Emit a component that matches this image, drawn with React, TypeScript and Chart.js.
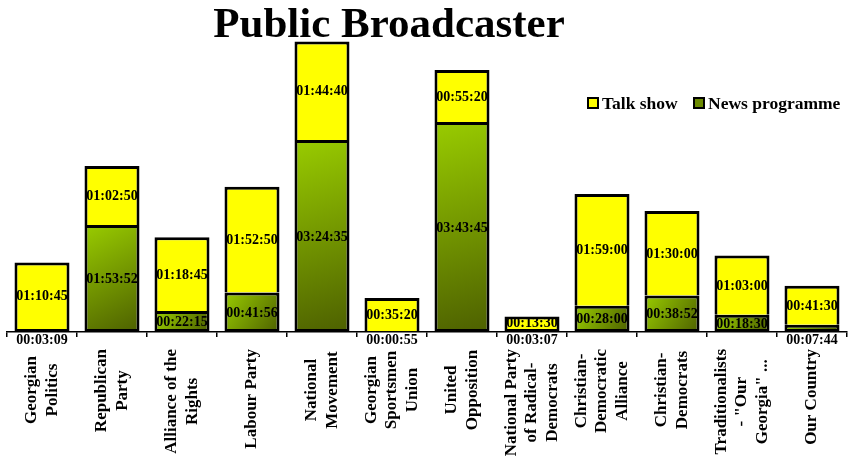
import React, { useEffect, useRef } from "react";
import { Chart, registerables } from "chart.js";

Chart.register(...registerables);

const categories: string[][] = [
  ["Georgian", "Politics"],
  ["Republican", "Party"],
  ["Alliance of the", "Rights"],
  ["Labour Party"],
  ["National", "Movement"],
  ["Georgian", "Sportsmen", "Union"],
  ["United", "Opposition"],
  ["National Party", "of Radical-", "Democrats"],
  ["Christian-", "Democratic", "Alliance"],
  ["Christian-", "Democrats"],
  ["Traditionalists", '- "Our', 'Georgia" ...'],
  ["Our Country"],
];

const newsTimes: string[] = [
  "00:03:09", "01:53:52", "00:22:15", "00:41:56", "03:24:35", "00:00:55",
  "03:43:45", "00:03:07", "00:28:00", "00:38:52", "00:18:30", "00:07:44",
];

const talkTimes: string[] = [
  "01:10:45", "01:02:50", "01:18:45", "01:52:50", "01:44:40", "00:35:20",
  "00:55:20", "00:13:30", "01:59:00", "01:30:00", "01:03:00", "00:41:30",
];

const seriesNames = ["News programme", "Talk show"];
const titleText = "Public Broadcaster";

const toSeconds = (t: string) => {
  const [h, m, s] = t.split(":").map(Number);
  return h * 3600 + m * 60 + s;
};

const newsSec = newsTimes.map(toSeconds);
const talkSec = talkTimes.map(toSeconds);

const SERIF = "'Times New Roman', 'Liberation Serif', serif";
const YELLOW = "#ffff00";
const BAR_PCT = 0.786;

function greenGradient(chart: any, i: number, from: number, to: number) {
  const xs = chart.scales.x;
  const ys = chart.scales.y;
  if (!xs || !ys || !chart.chartArea) return "#77a000";
  const cx = xs.getPixelForValue(i);
  const half = (xs.width / categories.length) * BAR_PCT / 2;
  const top = ys.getPixelForValue(to);
  const bottom = ys.getPixelForValue(from);
  const g = chart.ctx.createLinearGradient(cx - half, top, cx + half, bottom);
  g.addColorStop(0, "#99cc00");
  g.addColorStop(1, "#4d6000");
  return g;
}

const labelPlugin = {
  id: "valueLabels",
  afterDatasetsDraw(chart: any) {
    const ctx = chart.ctx;
    ctx.save();
    ctx.font = `bold 14px ${SERIF}`;
    ctx.fillStyle = "#000";
    ctx.textAlign = "center";
    chart.data.datasets.forEach((ds: any, di: number) => {
      const meta = chart.getDatasetMeta(di);
      const texts = di === 0 ? newsTimes : talkTimes;
      meta.data.forEach((el: any, i: number) => {
        const { x, y, base } = el.getProps(["x", "y", "base"], true);
        const h = Math.abs(base - y);
        if (di === 0 && h < 10) {
          ctx.textBaseline = "top";
          ctx.fillText(texts[i], x, chart.chartArea.bottom + 1);
        } else {
          ctx.textBaseline = "middle";
          ctx.fillText(texts[i], x, (y + base) / 2 + 1);
        }
      });
    });
    ctx.restore();
  },
};

const decorPlugin = {
  id: "decor",
  afterDraw(chart: any) {
    const ctx = chart.ctx;
    ctx.save();
    // category labels, rotated
    const xs = chart.scales.x;
    ctx.font = `bold 17px ${SERIF}`;
    ctx.fillStyle = "#000";
    ctx.textAlign = "center";
    ctx.textBaseline = "middle";
    const lineGap = 20.5;
    const baseCenter = 390;
    const minTop = chart.chartArea.bottom + 17;
    categories.forEach((lines, i) => {
      const x0 = xs.getPixelForValue(i);
      const n = lines.length;
      const blockW = Math.max(...lines.map((l) => ctx.measureText(l).width));
      const cy = Math.max(baseCenter, minTop + blockW / 2);
      lines.forEach((line, k) => {
        const lx = x0 + (k - (n - 1) / 2) * lineGap;
        ctx.save();
        ctx.translate(lx, cy);
        ctx.rotate(-Math.PI / 2);
        ctx.fillText(line, 0, 0);
        ctx.restore();
      });
    });
    // title
    ctx.font = `bold 43px ${SERIF}`;
    ctx.textAlign = "center";
    ctx.textBaseline = "alphabetic";
    ctx.fillText(titleText, 389, 37);
    // legend (Talk show first, then News programme)
    ctx.font = `bold 17.5px ${SERIF}`;
    const items = [
      { name: seriesNames[1], color: YELLOW, x: 588 },
      { name: seriesNames[0], color: "#6b8a00", x: 694 },
    ];
    const box = 10;
    const legendY = 103;
    ctx.textAlign = "left";
    ctx.textBaseline = "middle";
    items.forEach((it) => {
      ctx.fillStyle = it.color;
      ctx.fillRect(it.x, legendY - box / 2, box, box);
      ctx.lineWidth = 2;
      ctx.strokeStyle = "#000";
      ctx.strokeRect(it.x, legendY - box / 2, box, box);
      ctx.fillStyle = "#000";
      ctx.fillText(it.name, it.x + box + 4, legendY + 1);
    });
    ctx.restore();
  },
};

export default function App() {
  const ref = useRef<HTMLCanvasElement | null>(null);

  useEffect(() => {
    if (!ref.current) return;
    const chart = new Chart(ref.current, {
      type: "bar",
      data: {
        labels: categories.map((c) => c.join(" ")),
        datasets: [
          {
            label: seriesNames[0],
            data: newsSec,
            backgroundColor: (c: any) =>
              c.type === "data" ? greenGradient(c.chart, c.dataIndex, 0, newsSec[c.dataIndex]) : "#77a000",
            borderColor: "#000",
            borderWidth: 3,
            borderSkipped: false,
            barPercentage: BAR_PCT,
            categoryPercentage: 1,
          },
          {
            label: seriesNames[1],
            data: talkSec,
            backgroundColor: YELLOW,
            borderColor: "#000",
            borderWidth: { top: 3, left: 3, right: 3, bottom: 0 },
            borderSkipped: false,
            barPercentage: BAR_PCT,
            categoryPercentage: 1,
          },
        ],
      },
      options: {
        animation: false,
        responsive: true,
        maintainAspectRatio: false,
        layout: { padding: { top: 19, left: 7, right: 2, bottom: 0 } },
        plugins: {
          legend: { display: false },
          title: { display: false },
          tooltip: { enabled: false },
        },
        scales: {
          x: {
            stacked: true,
            afterFit: (scale: any) => {
              scale.height = 128;
            },
            grid: {
              display: true,
              drawOnChartArea: false,
              drawTicks: true,
              tickLength: 5,
              color: "#000",
              lineWidth: 1.5,
              offset: true,
            },
            border: { display: true, color: "#000", width: 1.5 },
            ticks: { display: false },
          },
          y: {
            stacked: true,
            display: false,
            min: 0,
            max: 20000,
          },
        },
      },
      plugins: [labelPlugin, decorPlugin],
    });
    return () => chart.destroy();
  }, []);

  return (
    <div style={{ position: "fixed", left: 0, top: 0, width: 849, height: 460, background: "#fff" }}>
      <canvas ref={ref} />
    </div>
  );
}
